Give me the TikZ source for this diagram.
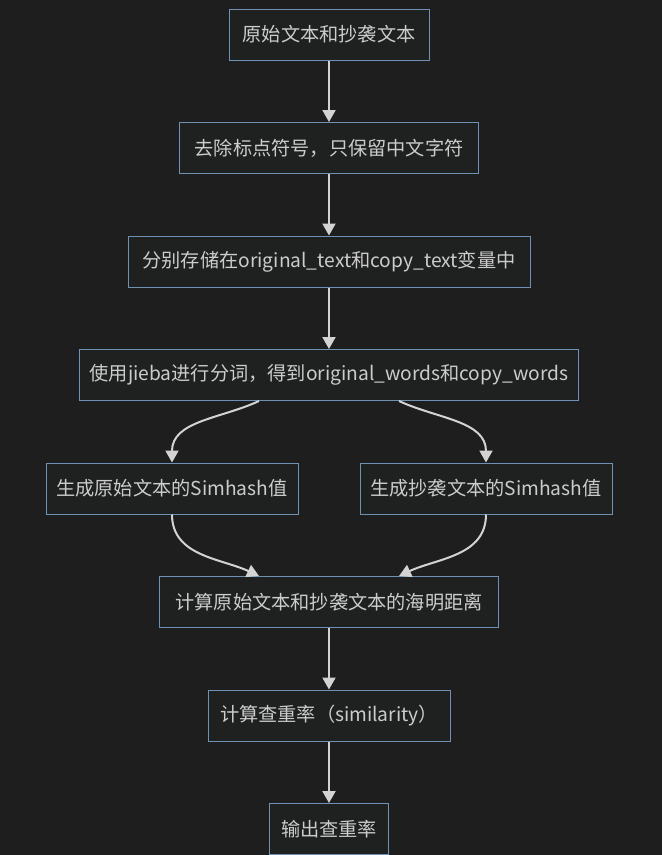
\documentclass[tikz,border=0pt]{standalone}
\usepackage{xcolor}
\usepackage{fontspec}
\setmainfont{Noto Sans CJK SC}
\usepackage{tikz}
\usetikzlibrary{positioning,arrows.meta}

\definecolor{bgcol}{HTML}{1E1E1E}
\definecolor{boxfill}{HTML}{1F2020}
\definecolor{boxline}{HTML}{6E91B4}
\definecolor{txtcol}{HTML}{CCCCCC}
\definecolor{edgecol}{HTML}{D3D3D3}

\begin{document}
\begin{tikzpicture}[
  x=1pt, y=-1pt,
  node distance=61.5pt,
  box/.style={draw=boxline, line width=1pt, fill=boxfill, text=txtcol,
              minimum height=51pt, inner sep=0pt, align=center,
              font=\fontsize{19.2}{22}\selectfont},
  arrow/.style={-{Triangle[length=12pt, width=13pt]}, line width=2pt, draw=edgecol}
]
  \fill[bgcol] (0,0) rectangle (662,855);
  \useasboundingbox (0,0) rectangle (662,855);

  % Eingabe
  \node[box, minimum width=200pt] (src) at (329,34.5) {原始文本和抄袭文本};
  \node[box, minimum width=299pt, below=of src] (clean) {去除标点符号，只保留中文字符};
  \node[box, minimum width=402pt, below=of clean] (store) {分别存储在original\_text和copy\_text变量中};
  \node[box, minimum width=499pt, below=of store] (seg) {使用jieba进行分词，得到original\_words和copy\_words};
  \node[box, minimum width=252pt, below=of seg, xshift=-157pt] (simo) {生成原始文本的Simhash值};
  \node[box, minimum width=252pt, below=of seg, xshift=157pt] (simc) {生成抄袭文本的Simhash值};
  \node[box, minimum width=339pt, below=of seg, yshift=-113.5pt] (dist) {计算原始文本和抄袭文本的海明距离};
  \node[box, minimum width=242pt, below=of dist] (rate) {计算查重率（similarity）};
  \node[box, minimum width=119pt, below=of rate] (out) {输出查重率};

  \draw[arrow] (src) -- (clean);
  \draw[arrow] (clean) -- (store);
  \draw[arrow] (store) -- (seg);
  \draw[arrow] ([xshift=-70pt]seg.south) to[out=-155, in=90] (simo.north);
  \draw[arrow] ([xshift=70pt]seg.south) to[out=-25, in=90] (simc.north);
  \draw[arrow] (simo.south) to[out=-90, in=155] ([xshift=-70pt]dist.north);
  \draw[arrow] (simc.south) to[out=-90, in=25] ([xshift=70pt]dist.north);
  \draw[arrow] (dist) -- (rate);
  \draw[arrow] (rate) -- (out);
\end{tikzpicture}
\end{document}
